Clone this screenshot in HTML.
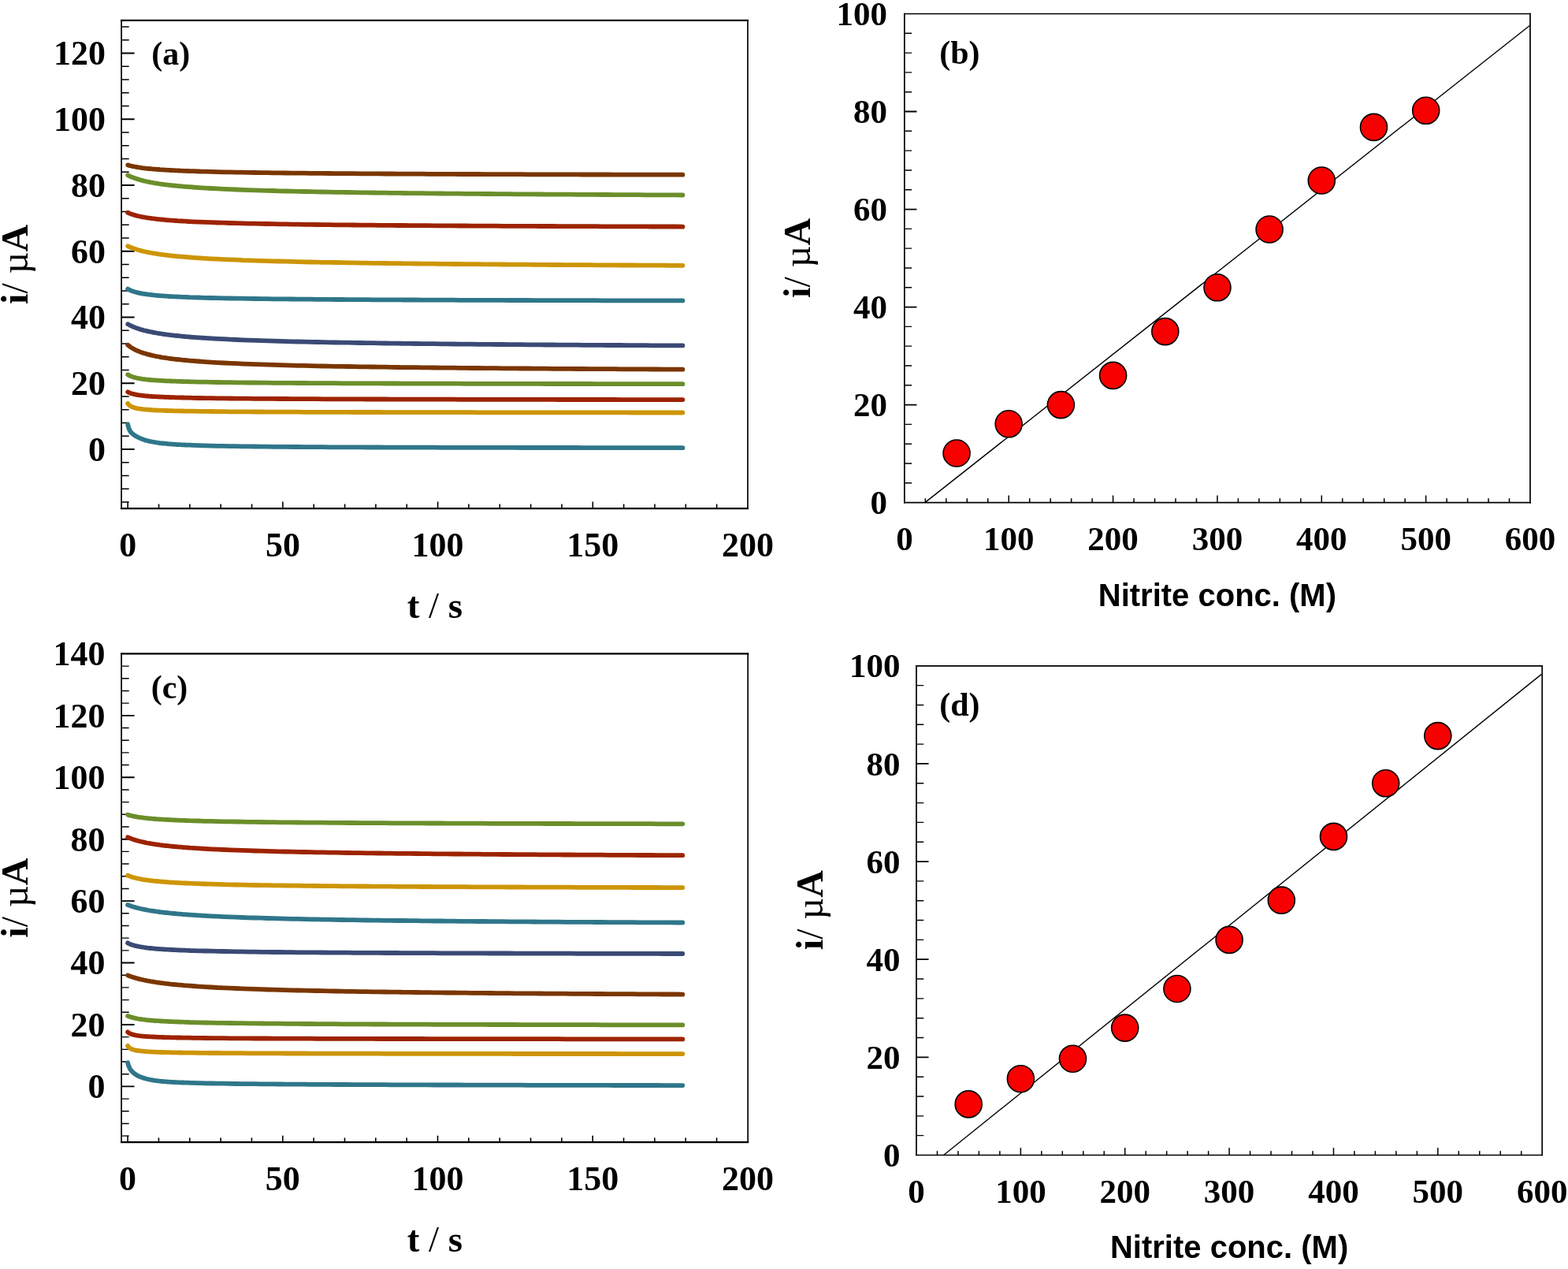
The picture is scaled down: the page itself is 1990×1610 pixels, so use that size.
<!DOCTYPE html>
<html><head><meta charset="utf-8"><title>Figure</title>
<style>html,body{margin:0;padding:0;background:#fff;}svg{display:block;}.t{font-family:"Liberation Serif","Times New Roman",serif;font-weight:bold;fill:#000;}.s{font-family:"Liberation Sans",Arial,sans-serif;font-weight:bold;fill:#000;}</style></head><body>
<svg width="1990" height="1610" viewBox="0 0 1990 1610">
<rect width="1990" height="1610" fill="#fff"/>
<path d="M154.1,25.9H949.0 M154.1,645.1H949.0" stroke="#000" stroke-width="2.2" stroke-linecap="square" fill="none"/>
<path d="M154.1,25.9V645.1 M949.0,25.9V645.1" stroke="#000" stroke-width="1.7" stroke-linecap="square" fill="none"/>
<path d="M154.1,570.00h16.5M154.1,486.25h16.5M154.1,402.50h16.5M154.1,318.75h16.5M154.1,235.00h16.5M154.1,151.25h16.5M154.1,67.50h16.5" stroke="#000" stroke-width="1.9" fill="none"/>
<path d="M154.1,637.00h9.6M154.1,620.25h9.6M154.1,603.50h9.6M154.1,586.75h9.6M154.1,553.25h9.6M154.1,536.50h9.6M154.1,519.75h9.6M154.1,503.00h9.6M154.1,469.50h9.6M154.1,452.75h9.6M154.1,436.00h9.6M154.1,419.25h9.6M154.1,385.75h9.6M154.1,369.00h9.6M154.1,352.25h9.6M154.1,335.50h9.6M154.1,302.00h9.6M154.1,285.25h9.6M154.1,268.50h9.6M154.1,251.75h9.6M154.1,218.25h9.6M154.1,201.50h9.6M154.1,184.75h9.6M154.1,168.00h9.6M154.1,134.50h9.6M154.1,117.75h9.6M154.1,101.00h9.6M154.1,84.25h9.6M154.1,50.75h9.6M154.1,34.00h9.6" stroke="#000" stroke-width="1.4" fill="none"/>
<path d="M162.20,645.1v-8.5M201.54,645.1v-5.6M240.88,645.1v-5.6M280.22,645.1v-5.6M319.56,645.1v-5.6M358.90,645.1v-8.5M398.24,645.1v-5.6M437.58,645.1v-5.6M476.92,645.1v-5.6M516.26,645.1v-5.6M555.60,645.1v-8.5M594.94,645.1v-5.6M634.28,645.1v-5.6M673.62,645.1v-5.6M712.96,645.1v-5.6M752.30,645.1v-8.5M791.64,645.1v-5.6M830.98,645.1v-5.6M870.32,645.1v-5.6M909.66,645.1v-5.6" stroke="#000" stroke-width="1.6" fill="none"/>
<text class="t" x="133.9" y="584.9" font-size="44" text-anchor="end">0</text>
<text class="t" x="133.9" y="501.1" font-size="44" text-anchor="end">20</text>
<text class="t" x="133.9" y="417.4" font-size="44" text-anchor="end">40</text>
<text class="t" x="133.9" y="333.6" font-size="44" text-anchor="end">60</text>
<text class="t" x="133.9" y="249.9" font-size="44" text-anchor="end">80</text>
<text class="t" x="133.9" y="166.2" font-size="44" text-anchor="end">100</text>
<text class="t" x="133.9" y="82.4" font-size="44" text-anchor="end">120</text>
<text class="t" x="162.2" y="706.2" font-size="44" text-anchor="middle">0</text>
<text class="t" x="358.9" y="706.2" font-size="44" text-anchor="middle">50</text>
<text class="t" x="555.6" y="706.2" font-size="44" text-anchor="middle">100</text>
<text class="t" x="752.3" y="706.2" font-size="44" text-anchor="middle">150</text>
<text class="t" x="949.0" y="706.2" font-size="44" text-anchor="middle">200</text>
<text class="t" x="551.9" y="783.7" font-size="47" text-anchor="middle">t <tspan font-weight="normal">/</tspan> s</text>
<text class="t" font-size="48.0" text-anchor="middle" transform="translate(35.1,335.4) rotate(-90)">i<tspan font-weight="normal">/ µ</tspan>A</text>
<text class="t" x="192.2" y="81.6" font-size="42.0">(a)</text>
<path d="M162.2,209.4 L163.0,209.6 L163.8,209.9 L164.6,210.1 L165.3,210.3 L166.1,210.5 L166.9,210.7 L167.7,210.8 L168.5,211.0 L169.3,211.2 L170.1,211.3 L170.9,211.5 L171.6,211.6 L172.4,211.8 L173.2,211.9 L174.0,212.0 L175.0,212.2 L177.0,212.5 L179.0,212.8 L181.0,213.1 L183.0,213.3 L185.0,213.6 L187.0,213.8 L189.0,214.0 L191.0,214.2 L193.0,214.4 L195.0,214.6 L197.0,214.7 L198.9,214.9 L200.9,215.0 L202.9,215.2 L204.9,215.3 L206.9,215.4 L208.9,215.6 L210.9,215.7 L212.9,215.8 L214.9,215.9 L216.9,216.0 L218.9,216.1 L220.9,216.2 L222.9,216.3 L224.9,216.4 L226.9,216.5 L228.9,216.6 L230.9,216.7 L232.9,216.8 L234.9,216.9 L236.9,216.9 L238.9,217.0 L240.9,217.1 L244.8,217.2 L252.7,217.5 L260.6,217.7 L268.4,217.9 L276.3,218.1 L284.2,218.3 L292.0,218.4 L299.9,218.6 L307.8,218.7 L315.6,218.9 L323.5,219.0 L331.4,219.1 L339.2,219.2 L347.1,219.3 L355.0,219.4 L362.8,219.5 L370.7,219.6 L378.6,219.7 L386.4,219.7 L394.3,219.8 L402.2,219.9 L410.0,219.9 L417.9,220.0 L425.8,220.1 L433.6,220.1 L441.5,220.2 L449.4,220.2 L457.2,220.3 L465.1,220.4 L473.0,220.4 L480.9,220.4 L488.7,220.5 L496.6,220.5 L504.5,220.6 L512.3,220.6 L520.2,220.7 L528.1,220.7 L535.9,220.7 L543.8,220.8 L551.7,220.8 L559.5,220.9 L567.4,220.9 L575.3,220.9 L583.1,221.0 L591.0,221.0 L598.9,221.0 L606.7,221.0 L614.6,221.1 L622.5,221.1 L630.3,221.1 L638.2,221.2 L646.1,221.2 L654.0,221.2 L661.8,221.2 L669.7,221.3 L677.6,221.3 L685.4,221.3 L693.3,221.3 L701.2,221.3 L709.0,221.4 L716.9,221.4 L724.8,221.4 L732.6,221.4 L740.5,221.5 L748.4,221.5 L756.2,221.5 L764.1,221.5 L772.0,221.5 L779.8,221.6 L787.7,221.6 L795.6,221.6 L803.4,221.6 L811.3,221.6 L819.2,221.6 L827.0,221.7 L834.9,221.7 L842.8,221.7 L850.7,221.7 L858.5,221.7 L866.4,221.7" fill="none" stroke="#7A3600" stroke-width="5.8" stroke-linecap="round" stroke-linejoin="round"/>
<path d="M162.2,222.3 L163.0,222.7 L163.8,223.1 L164.6,223.5 L165.3,223.8 L166.1,224.2 L166.9,224.5 L167.7,224.8 L168.5,225.1 L169.3,225.4 L170.1,225.7 L170.9,226.0 L171.6,226.3 L172.4,226.6 L173.2,226.8 L174.0,227.1 L175.0,227.4 L177.0,228.0 L179.0,228.5 L181.0,229.1 L183.0,229.6 L185.0,230.0 L187.0,230.5 L189.0,230.9 L191.0,231.3 L193.0,231.6 L195.0,232.0 L197.0,232.3 L198.9,232.7 L200.9,233.0 L202.9,233.3 L204.9,233.6 L206.9,233.8 L208.9,234.1 L210.9,234.3 L212.9,234.6 L214.9,234.8 L216.9,235.0 L218.9,235.3 L220.9,235.5 L222.9,235.7 L224.9,235.9 L226.9,236.1 L228.9,236.2 L230.9,236.4 L232.9,236.6 L234.9,236.8 L236.9,236.9 L238.9,237.1 L240.9,237.2 L244.8,237.5 L252.7,238.1 L260.6,238.6 L268.4,239.0 L276.3,239.4 L284.2,239.8 L292.0,240.2 L299.9,240.5 L307.8,240.8 L315.6,241.1 L323.5,241.3 L331.4,241.6 L339.2,241.8 L347.1,242.0 L355.0,242.3 L362.8,242.5 L370.7,242.6 L378.6,242.8 L386.4,243.0 L394.3,243.2 L402.2,243.3 L410.0,243.5 L417.9,243.6 L425.8,243.8 L433.6,243.9 L441.5,244.0 L449.4,244.1 L457.2,244.3 L465.1,244.4 L473.0,244.5 L480.9,244.6 L488.7,244.7 L496.6,244.8 L504.5,244.9 L512.3,245.0 L520.2,245.1 L528.1,245.2 L535.9,245.2 L543.8,245.3 L551.7,245.4 L559.5,245.5 L567.4,245.6 L575.3,245.6 L583.1,245.7 L591.0,245.8 L598.9,245.8 L606.7,245.9 L614.6,246.0 L622.5,246.0 L630.3,246.1 L638.2,246.2 L646.1,246.2 L654.0,246.3 L661.8,246.3 L669.7,246.4 L677.6,246.4 L685.4,246.5 L693.3,246.6 L701.2,246.6 L709.0,246.7 L716.9,246.7 L724.8,246.7 L732.6,246.8 L740.5,246.8 L748.4,246.9 L756.2,246.9 L764.1,247.0 L772.0,247.0 L779.8,247.1 L787.7,247.1 L795.6,247.1 L803.4,247.2 L811.3,247.2 L819.2,247.3 L827.0,247.3 L834.9,247.3 L842.8,247.4 L850.7,247.4 L858.5,247.4 L866.4,247.5" fill="none" stroke="#6B8E2A" stroke-width="5.8" stroke-linecap="round" stroke-linejoin="round"/>
<path d="M162.2,269.8 L163.0,270.1 L163.8,270.5 L164.6,270.8 L165.3,271.1 L166.1,271.4 L166.9,271.7 L167.7,271.9 L168.5,272.2 L169.3,272.5 L170.1,272.7 L170.9,272.9 L171.6,273.1 L172.4,273.4 L173.2,273.6 L174.0,273.8 L175.0,274.0 L177.0,274.5 L179.0,274.9 L181.0,275.3 L183.0,275.7 L185.0,276.0 L187.0,276.3 L189.0,276.6 L191.0,276.9 L193.0,277.2 L195.0,277.4 L197.0,277.7 L198.9,277.9 L200.9,278.1 L202.9,278.3 L204.9,278.5 L206.9,278.7 L208.9,278.9 L210.9,279.1 L212.9,279.3 L214.9,279.4 L216.9,279.6 L218.9,279.7 L220.9,279.9 L222.9,280.0 L224.9,280.1 L226.9,280.3 L228.9,280.4 L230.9,280.5 L232.9,280.6 L234.9,280.7 L236.9,280.8 L238.9,281.0 L240.9,281.1 L244.8,281.3 L252.7,281.6 L260.6,281.9 L268.4,282.2 L276.3,282.5 L284.2,282.7 L292.0,283.0 L299.9,283.2 L307.8,283.4 L315.6,283.6 L323.5,283.7 L331.4,283.9 L339.2,284.0 L347.1,284.2 L355.0,284.3 L362.8,284.4 L370.7,284.6 L378.6,284.7 L386.4,284.8 L394.3,284.9 L402.2,285.0 L410.0,285.1 L417.9,285.2 L425.8,285.3 L433.6,285.3 L441.5,285.4 L449.4,285.5 L457.2,285.6 L465.1,285.6 L473.0,285.7 L480.9,285.8 L488.7,285.8 L496.6,285.9 L504.5,286.0 L512.3,286.0 L520.2,286.1 L528.1,286.1 L535.9,286.2 L543.8,286.2 L551.7,286.3 L559.5,286.3 L567.4,286.4 L575.3,286.4 L583.1,286.5 L591.0,286.5 L598.9,286.6 L606.7,286.6 L614.6,286.6 L622.5,286.7 L630.3,286.7 L638.2,286.8 L646.1,286.8 L654.0,286.8 L661.8,286.9 L669.7,286.9 L677.6,286.9 L685.4,287.0 L693.3,287.0 L701.2,287.0 L709.0,287.1 L716.9,287.1 L724.8,287.1 L732.6,287.1 L740.5,287.2 L748.4,287.2 L756.2,287.2 L764.1,287.3 L772.0,287.3 L779.8,287.3 L787.7,287.3 L795.6,287.4 L803.4,287.4 L811.3,287.4 L819.2,287.4 L827.0,287.5 L834.9,287.5 L842.8,287.5 L850.7,287.5 L858.5,287.5 L866.4,287.6" fill="none" stroke="#9D2300" stroke-width="5.8" stroke-linecap="round" stroke-linejoin="round"/>
<path d="M162.2,312.2 L163.0,312.6 L163.8,312.9 L164.6,313.3 L165.3,313.6 L166.1,313.9 L166.9,314.3 L167.7,314.6 L168.5,314.8 L169.3,315.1 L170.1,315.4 L170.9,315.7 L171.6,315.9 L172.4,316.2 L173.2,316.4 L174.0,316.7 L175.0,317.0 L177.0,317.5 L179.0,318.1 L181.0,318.6 L183.0,319.0 L185.0,319.5 L187.0,319.9 L189.0,320.3 L191.0,320.7 L193.0,321.0 L195.0,321.4 L197.0,321.7 L198.9,322.0 L200.9,322.3 L202.9,322.6 L204.9,322.9 L206.9,323.1 L208.9,323.4 L210.9,323.6 L212.9,323.9 L214.9,324.1 L216.9,324.3 L218.9,324.5 L220.9,324.8 L222.9,325.0 L224.9,325.1 L226.9,325.3 L228.9,325.5 L230.9,325.7 L232.9,325.9 L234.9,326.0 L236.9,326.2 L238.9,326.4 L240.9,326.5 L244.8,326.8 L252.7,327.3 L260.6,327.8 L268.4,328.3 L276.3,328.7 L284.2,329.1 L292.0,329.4 L299.9,329.7 L307.8,330.1 L315.6,330.3 L323.5,330.6 L331.4,330.9 L339.2,331.1 L347.1,331.3 L355.0,331.5 L362.8,331.7 L370.7,331.9 L378.6,332.1 L386.4,332.3 L394.3,332.5 L402.2,332.6 L410.0,332.8 L417.9,332.9 L425.8,333.0 L433.6,333.2 L441.5,333.3 L449.4,333.4 L457.2,333.6 L465.1,333.7 L473.0,333.8 L480.9,333.9 L488.7,334.0 L496.6,334.1 L504.5,334.2 L512.3,334.3 L520.2,334.4 L528.1,334.5 L535.9,334.6 L543.8,334.6 L551.7,334.7 L559.5,334.8 L567.4,334.9 L575.3,335.0 L583.1,335.0 L591.0,335.1 L598.9,335.2 L606.7,335.2 L614.6,335.3 L622.5,335.4 L630.3,335.4 L638.2,335.5 L646.1,335.6 L654.0,335.6 L661.8,335.7 L669.7,335.7 L677.6,335.8 L685.4,335.8 L693.3,335.9 L701.2,336.0 L709.0,336.0 L716.9,336.1 L724.8,336.1 L732.6,336.1 L740.5,336.2 L748.4,336.2 L756.2,336.3 L764.1,336.3 L772.0,336.4 L779.8,336.4 L787.7,336.5 L795.6,336.5 L803.4,336.5 L811.3,336.6 L819.2,336.6 L827.0,336.7 L834.9,336.7 L842.8,336.7 L850.7,336.8 L858.5,336.8 L866.4,336.8" fill="none" stroke="#CD9505" stroke-width="5.8" stroke-linecap="round" stroke-linejoin="round"/>
<path d="M162.2,366.6 L163.0,367.1 L163.8,367.5 L164.6,367.9 L165.3,368.3 L166.1,368.6 L166.9,368.9 L167.7,369.2 L168.5,369.5 L169.3,369.8 L170.1,370.0 L170.9,370.3 L171.6,370.5 L172.4,370.7 L173.2,370.9 L174.0,371.1 L175.0,371.4 L177.0,371.8 L179.0,372.2 L181.0,372.6 L183.0,372.9 L185.0,373.2 L187.0,373.5 L189.0,373.7 L191.0,374.0 L193.0,374.2 L195.0,374.4 L197.0,374.6 L198.9,374.8 L200.9,375.0 L202.9,375.1 L204.9,375.3 L206.9,375.4 L208.9,375.6 L210.9,375.7 L212.9,375.8 L214.9,376.0 L216.9,376.1 L218.9,376.2 L220.9,376.3 L222.9,376.4 L224.9,376.5 L226.9,376.6 L228.9,376.7 L230.9,376.8 L232.9,376.8 L234.9,376.9 L236.9,377.0 L238.9,377.1 L240.9,377.2 L244.8,377.3 L252.7,377.5 L260.6,377.8 L268.4,378.0 L276.3,378.2 L284.2,378.3 L292.0,378.5 L299.9,378.6 L307.8,378.7 L315.6,378.9 L323.5,379.0 L331.4,379.1 L339.2,379.2 L347.1,379.3 L355.0,379.4 L362.8,379.4 L370.7,379.5 L378.6,379.6 L386.4,379.7 L394.3,379.7 L402.2,379.8 L410.0,379.9 L417.9,379.9 L425.8,380.0 L433.6,380.0 L441.5,380.1 L449.4,380.1 L457.2,380.2 L465.1,380.2 L473.0,380.3 L480.9,380.3 L488.7,380.4 L496.6,380.4 L504.5,380.4 L512.3,380.5 L520.2,380.5 L528.1,380.5 L535.9,380.6 L543.8,380.6 L551.7,380.6 L559.5,380.7 L567.4,380.7 L575.3,380.7 L583.1,380.8 L591.0,380.8 L598.9,380.8 L606.7,380.8 L614.6,380.9 L622.5,380.9 L630.3,380.9 L638.2,380.9 L646.1,381.0 L654.0,381.0 L661.8,381.0 L669.7,381.0 L677.6,381.1 L685.4,381.1 L693.3,381.1 L701.2,381.1 L709.0,381.1 L716.9,381.1 L724.8,381.2 L732.6,381.2 L740.5,381.2 L748.4,381.2 L756.2,381.2 L764.1,381.3 L772.0,381.3 L779.8,381.3 L787.7,381.3 L795.6,381.3 L803.4,381.3 L811.3,381.3 L819.2,381.4 L827.0,381.4 L834.9,381.4 L842.8,381.4 L850.7,381.4 L858.5,381.4 L866.4,381.4" fill="none" stroke="#2F768A" stroke-width="5.8" stroke-linecap="round" stroke-linejoin="round"/>
<path d="M162.2,411.2 L163.0,411.6 L163.8,412.1 L164.6,412.5 L165.3,412.9 L166.1,413.2 L166.9,413.6 L167.7,414.0 L168.5,414.3 L169.3,414.7 L170.1,415.0 L170.9,415.3 L171.6,415.6 L172.4,415.9 L173.2,416.2 L174.0,416.5 L175.0,416.8 L177.0,417.5 L179.0,418.1 L181.0,418.6 L183.0,419.2 L185.0,419.7 L187.0,420.1 L189.0,420.6 L191.0,421.0 L193.0,421.4 L195.0,421.8 L197.0,422.2 L198.9,422.5 L200.9,422.9 L202.9,423.2 L204.9,423.5 L206.9,423.8 L208.9,424.1 L210.9,424.4 L212.9,424.6 L214.9,424.9 L216.9,425.1 L218.9,425.3 L220.9,425.6 L222.9,425.8 L224.9,426.0 L226.9,426.2 L228.9,426.4 L230.9,426.6 L232.9,426.8 L234.9,427.0 L236.9,427.1 L238.9,427.3 L240.9,427.5 L244.8,427.8 L252.7,428.4 L260.6,428.9 L268.4,429.4 L276.3,429.8 L284.2,430.2 L292.0,430.6 L299.9,431.0 L307.8,431.3 L315.6,431.6 L323.5,431.9 L331.4,432.1 L339.2,432.4 L347.1,432.6 L355.0,432.9 L362.8,433.1 L370.7,433.3 L378.6,433.5 L386.4,433.7 L394.3,433.8 L402.2,434.0 L410.0,434.2 L417.9,434.3 L425.8,434.5 L433.6,434.6 L441.5,434.7 L449.4,434.9 L457.2,435.0 L465.1,435.1 L473.0,435.2 L480.9,435.4 L488.7,435.5 L496.6,435.6 L504.5,435.7 L512.3,435.8 L520.2,435.9 L528.1,436.0 L535.9,436.1 L543.8,436.2 L551.7,436.2 L559.5,436.3 L567.4,436.4 L575.3,436.5 L583.1,436.6 L591.0,436.6 L598.9,436.7 L606.7,436.8 L614.6,436.8 L622.5,436.9 L630.3,437.0 L638.2,437.0 L646.1,437.1 L654.0,437.2 L661.8,437.2 L669.7,437.3 L677.6,437.4 L685.4,437.4 L693.3,437.5 L701.2,437.5 L709.0,437.6 L716.9,437.6 L724.8,437.7 L732.6,437.7 L740.5,437.8 L748.4,437.8 L756.2,437.9 L764.1,437.9 L772.0,438.0 L779.8,438.0 L787.7,438.0 L795.6,438.1 L803.4,438.1 L811.3,438.2 L819.2,438.2 L827.0,438.3 L834.9,438.3 L842.8,438.3 L850.7,438.4 L858.5,438.4 L866.4,438.4" fill="none" stroke="#3A4A75" stroke-width="5.8" stroke-linecap="round" stroke-linejoin="round"/>
<path d="M162.2,437.7 L163.0,438.3 L163.8,438.9 L164.6,439.5 L165.3,440.1 L166.1,440.6 L166.9,441.1 L167.7,441.6 L168.5,442.1 L169.3,442.5 L170.1,443.0 L170.9,443.4 L171.6,443.8 L172.4,444.2 L173.2,444.5 L174.0,444.9 L175.0,445.3 L177.0,446.1 L179.0,446.9 L181.0,447.6 L183.0,448.2 L185.0,448.8 L187.0,449.4 L189.0,449.9 L191.0,450.4 L193.0,450.9 L195.0,451.3 L197.0,451.8 L198.9,452.2 L200.9,452.5 L202.9,452.9 L204.9,453.3 L206.9,453.6 L208.9,453.9 L210.9,454.2 L212.9,454.5 L214.9,454.8 L216.9,455.0 L218.9,455.3 L220.9,455.5 L222.9,455.8 L224.9,456.0 L226.9,456.2 L228.9,456.4 L230.9,456.7 L232.9,456.9 L234.9,457.0 L236.9,457.2 L238.9,457.4 L240.9,457.6 L244.8,457.9 L252.7,458.5 L260.6,459.1 L268.4,459.6 L276.3,460.1 L284.2,460.5 L292.0,460.9 L299.9,461.2 L307.8,461.6 L315.6,461.9 L323.5,462.2 L331.4,462.4 L339.2,462.7 L347.1,462.9 L355.0,463.2 L362.8,463.4 L370.7,463.6 L378.6,463.8 L386.4,463.9 L394.3,464.1 L402.2,464.3 L410.0,464.5 L417.9,464.6 L425.8,464.8 L433.6,464.9 L441.5,465.0 L449.4,465.2 L457.2,465.3 L465.1,465.4 L473.0,465.5 L480.9,465.6 L488.7,465.7 L496.6,465.9 L504.5,466.0 L512.3,466.1 L520.2,466.1 L528.1,466.2 L535.9,466.3 L543.8,466.4 L551.7,466.5 L559.5,466.6 L567.4,466.7 L575.3,466.7 L583.1,466.8 L591.0,466.9 L598.9,467.0 L606.7,467.0 L614.6,467.1 L622.5,467.2 L630.3,467.2 L638.2,467.3 L646.1,467.4 L654.0,467.4 L661.8,467.5 L669.7,467.5 L677.6,467.6 L685.4,467.6 L693.3,467.7 L701.2,467.8 L709.0,467.8 L716.9,467.9 L724.8,467.9 L732.6,468.0 L740.5,468.0 L748.4,468.1 L756.2,468.1 L764.1,468.1 L772.0,468.2 L779.8,468.2 L787.7,468.3 L795.6,468.3 L803.4,468.4 L811.3,468.4 L819.2,468.4 L827.0,468.5 L834.9,468.5 L842.8,468.6 L850.7,468.6 L858.5,468.6 L866.4,468.7" fill="none" stroke="#7A3600" stroke-width="5.8" stroke-linecap="round" stroke-linejoin="round"/>
<path d="M162.2,475.2 L163.0,475.7 L163.8,476.2 L164.6,476.6 L165.3,477.0 L166.1,477.3 L166.9,477.6 L167.7,477.9 L168.5,478.2 L169.3,478.5 L170.1,478.7 L170.9,478.9 L171.6,479.1 L172.4,479.3 L173.2,479.5 L174.0,479.7 L175.0,479.9 L177.0,480.2 L179.0,480.6 L181.0,480.9 L183.0,481.1 L185.0,481.4 L187.0,481.6 L189.0,481.8 L191.0,482.0 L193.0,482.1 L195.0,482.3 L197.0,482.4 L198.9,482.6 L200.9,482.7 L202.9,482.8 L204.9,482.9 L206.9,483.1 L208.9,483.2 L210.9,483.3 L212.9,483.3 L214.9,483.4 L216.9,483.5 L218.9,483.6 L220.9,483.7 L222.9,483.7 L224.9,483.8 L226.9,483.9 L228.9,483.9 L230.9,484.0 L232.9,484.1 L234.9,484.1 L236.9,484.2 L238.9,484.2 L240.9,484.3 L244.8,484.4 L252.7,484.6 L260.6,484.7 L268.4,484.9 L276.3,485.0 L284.2,485.1 L292.0,485.2 L299.9,485.3 L307.8,485.4 L315.6,485.5 L323.5,485.5 L331.4,485.6 L339.2,485.7 L347.1,485.8 L355.0,485.8 L362.8,485.9 L370.7,485.9 L378.6,486.0 L386.4,486.0 L394.3,486.1 L402.2,486.1 L410.0,486.1 L417.9,486.2 L425.8,486.2 L433.6,486.3 L441.5,486.3 L449.4,486.3 L457.2,486.4 L465.1,486.4 L473.0,486.4 L480.9,486.4 L488.7,486.5 L496.6,486.5 L504.5,486.5 L512.3,486.6 L520.2,486.6 L528.1,486.6 L535.9,486.6 L543.8,486.6 L551.7,486.7 L559.5,486.7 L567.4,486.7 L575.3,486.7 L583.1,486.7 L591.0,486.8 L598.9,486.8 L606.7,486.8 L614.6,486.8 L622.5,486.8 L630.3,486.8 L638.2,486.9 L646.1,486.9 L654.0,486.9 L661.8,486.9 L669.7,486.9 L677.6,486.9 L685.4,486.9 L693.3,487.0 L701.2,487.0 L709.0,487.0 L716.9,487.0 L724.8,487.0 L732.6,487.0 L740.5,487.0 L748.4,487.0 L756.2,487.1 L764.1,487.1 L772.0,487.1 L779.8,487.1 L787.7,487.1 L795.6,487.1 L803.4,487.1 L811.3,487.1 L819.2,487.1 L827.0,487.2 L834.9,487.2 L842.8,487.2 L850.7,487.2 L858.5,487.2 L866.4,487.2" fill="none" stroke="#6B8E2A" stroke-width="5.8" stroke-linecap="round" stroke-linejoin="round"/>
<path d="M162.2,497.3 L163.0,497.7 L163.8,498.1 L164.6,498.4 L165.3,498.7 L166.1,499.0 L166.9,499.3 L167.7,499.5 L168.5,499.7 L169.3,499.9 L170.1,500.1 L170.9,500.3 L171.6,500.5 L172.4,500.6 L173.2,500.8 L174.0,500.9 L175.0,501.1 L177.0,501.4 L179.0,501.7 L181.0,501.9 L183.0,502.1 L185.0,502.3 L187.0,502.5 L189.0,502.7 L191.0,502.8 L193.0,503.0 L195.0,503.1 L197.0,503.2 L198.9,503.3 L200.9,503.4 L202.9,503.5 L204.9,503.6 L206.9,503.7 L208.9,503.8 L210.9,503.9 L212.9,503.9 L214.9,504.0 L216.9,504.1 L218.9,504.2 L220.9,504.2 L222.9,504.3 L224.9,504.3 L226.9,504.4 L228.9,504.4 L230.9,504.5 L232.9,504.5 L234.9,504.6 L236.9,504.6 L238.9,504.7 L240.9,504.7 L244.8,504.8 L252.7,505.0 L260.6,505.1 L268.4,505.2 L276.3,505.3 L284.2,505.4 L292.0,505.5 L299.9,505.6 L307.8,505.6 L315.6,505.7 L323.5,505.8 L331.4,505.8 L339.2,505.9 L347.1,505.9 L355.0,506.0 L362.8,506.0 L370.7,506.1 L378.6,506.1 L386.4,506.2 L394.3,506.2 L402.2,506.2 L410.0,506.3 L417.9,506.3 L425.8,506.3 L433.6,506.4 L441.5,506.4 L449.4,506.4 L457.2,506.4 L465.1,506.5 L473.0,506.5 L480.9,506.5 L488.7,506.5 L496.6,506.6 L504.5,506.6 L512.3,506.6 L520.2,506.6 L528.1,506.6 L535.9,506.7 L543.8,506.7 L551.7,506.7 L559.5,506.7 L567.4,506.7 L575.3,506.7 L583.1,506.8 L591.0,506.8 L598.9,506.8 L606.7,506.8 L614.6,506.8 L622.5,506.8 L630.3,506.8 L638.2,506.9 L646.1,506.9 L654.0,506.9 L661.8,506.9 L669.7,506.9 L677.6,506.9 L685.4,506.9 L693.3,506.9 L701.2,506.9 L709.0,507.0 L716.9,507.0 L724.8,507.0 L732.6,507.0 L740.5,507.0 L748.4,507.0 L756.2,507.0 L764.1,507.0 L772.0,507.0 L779.8,507.0 L787.7,507.1 L795.6,507.1 L803.4,507.1 L811.3,507.1 L819.2,507.1 L827.0,507.1 L834.9,507.1 L842.8,507.1 L850.7,507.1 L858.5,507.1 L866.4,507.1" fill="none" stroke="#9D2300" stroke-width="5.8" stroke-linecap="round" stroke-linejoin="round"/>
<path d="M162.2,511.9 L163.0,513.0 L163.8,513.8 L164.6,514.5 L165.3,515.0 L166.1,515.5 L166.9,515.9 L167.7,516.3 L168.5,516.6 L169.3,516.9 L170.1,517.1 L170.9,517.4 L171.6,517.6 L172.4,517.8 L173.2,517.9 L174.0,518.1 L175.0,518.3 L177.0,518.6 L179.0,518.9 L181.0,519.2 L183.0,519.4 L185.0,519.6 L187.0,519.7 L189.0,519.9 L191.0,520.0 L193.0,520.2 L195.0,520.3 L197.0,520.4 L198.9,520.5 L200.9,520.6 L202.9,520.7 L204.9,520.7 L206.9,520.8 L208.9,520.9 L210.9,521.0 L212.9,521.0 L214.9,521.1 L216.9,521.1 L218.9,521.2 L220.9,521.3 L222.9,521.3 L224.9,521.3 L226.9,521.4 L228.9,521.4 L230.9,521.5 L232.9,521.5 L234.9,521.6 L236.9,521.6 L238.9,521.6 L240.9,521.7 L244.8,521.7 L252.7,521.8 L260.6,521.9 L268.4,522.0 L276.3,522.1 L284.2,522.2 L292.0,522.3 L299.9,522.3 L307.8,522.4 L315.6,522.4 L323.5,522.5 L331.4,522.5 L339.2,522.6 L347.1,522.6 L355.0,522.6 L362.8,522.7 L370.7,522.7 L378.6,522.7 L386.4,522.8 L394.3,522.8 L402.2,522.8 L410.0,522.9 L417.9,522.9 L425.8,522.9 L433.6,522.9 L441.5,522.9 L449.4,523.0 L457.2,523.0 L465.1,523.0 L473.0,523.0 L480.9,523.0 L488.7,523.1 L496.6,523.1 L504.5,523.1 L512.3,523.1 L520.2,523.1 L528.1,523.1 L535.9,523.1 L543.8,523.2 L551.7,523.2 L559.5,523.2 L567.4,523.2 L575.3,523.2 L583.1,523.2 L591.0,523.2 L598.9,523.2 L606.7,523.3 L614.6,523.3 L622.5,523.3 L630.3,523.3 L638.2,523.3 L646.1,523.3 L654.0,523.3 L661.8,523.3 L669.7,523.3 L677.6,523.3 L685.4,523.3 L693.3,523.4 L701.2,523.4 L709.0,523.4 L716.9,523.4 L724.8,523.4 L732.6,523.4 L740.5,523.4 L748.4,523.4 L756.2,523.4 L764.1,523.4 L772.0,523.4 L779.8,523.4 L787.7,523.4 L795.6,523.4 L803.4,523.5 L811.3,523.5 L819.2,523.5 L827.0,523.5 L834.9,523.5 L842.8,523.5 L850.7,523.5 L858.5,523.5 L866.4,523.5" fill="none" stroke="#CD9505" stroke-width="5.8" stroke-linecap="round" stroke-linejoin="round"/>
<path d="M162.2,538.5 L163.0,541.9 L163.8,544.3 L164.6,546.0 L165.3,547.2 L166.1,548.3 L166.9,549.2 L167.7,549.9 L168.5,550.6 L169.3,551.2 L170.1,551.8 L170.9,552.3 L171.6,552.8 L172.4,553.3 L173.2,553.8 L174.0,554.2 L175.0,554.7 L177.0,555.7 L179.0,556.6 L181.0,557.3 L183.0,558.0 L185.0,558.6 L187.0,559.2 L189.0,559.7 L191.0,560.1 L193.0,560.5 L195.0,560.9 L197.0,561.2 L198.9,561.5 L200.9,561.8 L202.9,562.1 L204.9,562.3 L206.9,562.5 L208.9,562.7 L210.9,562.9 L212.9,563.1 L214.9,563.3 L216.9,563.4 L218.9,563.6 L220.9,563.7 L222.9,563.8 L224.9,564.0 L226.9,564.1 L228.9,564.2 L230.9,564.3 L232.9,564.4 L234.9,564.5 L236.9,564.6 L238.9,564.7 L240.9,564.7 L244.8,564.9 L252.7,565.2 L260.6,565.4 L268.4,565.6 L276.3,565.8 L284.2,565.9 L292.0,566.1 L299.9,566.2 L307.8,566.3 L315.6,566.4 L323.5,566.5 L331.4,566.6 L339.2,566.7 L347.1,566.8 L355.0,566.8 L362.8,566.9 L370.7,567.0 L378.6,567.0 L386.4,567.1 L394.3,567.1 L402.2,567.2 L410.0,567.2 L417.9,567.3 L425.8,567.3 L433.6,567.3 L441.5,567.4 L449.4,567.4 L457.2,567.4 L465.1,567.5 L473.0,567.5 L480.9,567.5 L488.7,567.6 L496.6,567.6 L504.5,567.6 L512.3,567.6 L520.2,567.7 L528.1,567.7 L535.9,567.7 L543.8,567.7 L551.7,567.7 L559.5,567.8 L567.4,567.8 L575.3,567.8 L583.1,567.8 L591.0,567.8 L598.9,567.8 L606.7,567.9 L614.6,567.9 L622.5,567.9 L630.3,567.9 L638.2,567.9 L646.1,567.9 L654.0,567.9 L661.8,568.0 L669.7,568.0 L677.6,568.0 L685.4,568.0 L693.3,568.0 L701.2,568.0 L709.0,568.0 L716.9,568.0 L724.8,568.0 L732.6,568.0 L740.5,568.1 L748.4,568.1 L756.2,568.1 L764.1,568.1 L772.0,568.1 L779.8,568.1 L787.7,568.1 L795.6,568.1 L803.4,568.1 L811.3,568.1 L819.2,568.1 L827.0,568.1 L834.9,568.2 L842.8,568.2 L850.7,568.2 L858.5,568.2 L866.4,568.2" fill="none" stroke="#2F768A" stroke-width="5.8" stroke-linecap="round" stroke-linejoin="round"/>
<path d="M154.1,829.4H949.2 M154.1,1449.2H949.2" stroke="#000" stroke-width="2.2" stroke-linecap="square" fill="none"/>
<path d="M154.1,829.4V1449.2 M949.2,829.4V1449.2" stroke="#000" stroke-width="1.7" stroke-linecap="square" fill="none"/>
<path d="M154.1,1378.40h16.5M154.1,1299.97h16.5M154.1,1221.54h16.5M154.1,1143.12h16.5M154.1,1064.69h16.5M154.1,986.26h16.5M154.1,907.83h16.5" stroke="#000" stroke-width="1.9" fill="none"/>
<path d="M154.1,1441.14h9.6M154.1,1425.46h9.6M154.1,1409.77h9.6M154.1,1394.09h9.6M154.1,1362.71h9.6M154.1,1347.03h9.6M154.1,1331.34h9.6M154.1,1315.66h9.6M154.1,1284.29h9.6M154.1,1268.60h9.6M154.1,1252.92h9.6M154.1,1237.23h9.6M154.1,1205.86h9.6M154.1,1190.17h9.6M154.1,1174.49h9.6M154.1,1158.80h9.6M154.1,1127.43h9.6M154.1,1111.74h9.6M154.1,1096.06h9.6M154.1,1080.37h9.6M154.1,1049.00h9.6M154.1,1033.32h9.6M154.1,1017.63h9.6M154.1,1001.95h9.6M154.1,970.57h9.6M154.1,954.89h9.6M154.1,939.20h9.6M154.1,923.52h9.6M154.1,892.15h9.6M154.1,876.46h9.6M154.1,860.78h9.6M154.1,845.09h9.6" stroke="#000" stroke-width="1.4" fill="none"/>
<path d="M162.10,1449.2v-8.5M201.44,1449.2v-5.6M240.78,1449.2v-5.6M280.12,1449.2v-5.6M319.46,1449.2v-5.6M358.80,1449.2v-8.5M398.14,1449.2v-5.6M437.48,1449.2v-5.6M476.82,1449.2v-5.6M516.16,1449.2v-5.6M555.50,1449.2v-8.5M594.84,1449.2v-5.6M634.18,1449.2v-5.6M673.52,1449.2v-5.6M712.86,1449.2v-5.6M752.20,1449.2v-8.5M791.54,1449.2v-5.6M830.88,1449.2v-5.6M870.22,1449.2v-5.6M909.56,1449.2v-5.6" stroke="#000" stroke-width="1.6" fill="none"/>
<text class="t" x="133.6" y="1393.3" font-size="44" text-anchor="end">0</text>
<text class="t" x="133.6" y="1314.9" font-size="44" text-anchor="end">20</text>
<text class="t" x="133.6" y="1236.4" font-size="44" text-anchor="end">40</text>
<text class="t" x="133.6" y="1158.0" font-size="44" text-anchor="end">60</text>
<text class="t" x="133.6" y="1079.6" font-size="44" text-anchor="end">80</text>
<text class="t" x="133.6" y="1001.2" font-size="44" text-anchor="end">100</text>
<text class="t" x="133.6" y="922.7" font-size="44" text-anchor="end">120</text>
<text class="t" x="133.6" y="844.3" font-size="44" text-anchor="end">140</text>
<text class="t" x="162.1" y="1510.4" font-size="44" text-anchor="middle">0</text>
<text class="t" x="358.8" y="1510.4" font-size="44" text-anchor="middle">50</text>
<text class="t" x="555.5" y="1510.4" font-size="44" text-anchor="middle">100</text>
<text class="t" x="752.2" y="1510.4" font-size="44" text-anchor="middle">150</text>
<text class="t" x="948.9" y="1510.4" font-size="44" text-anchor="middle">200</text>
<text class="t" x="551.9" y="1588" font-size="47" text-anchor="middle">t <tspan font-weight="normal">/</tspan> s</text>
<text class="t" font-size="48.0" text-anchor="middle" transform="translate(35.2,1139.2) rotate(-90)">i<tspan font-weight="normal">/ µ</tspan>A</text>
<text class="t" x="191.7" y="885.6" font-size="42.0">(c)</text>
<path d="M162.1,1033.7 L162.9,1033.9 L163.7,1034.2 L164.5,1034.4 L165.2,1034.6 L166.0,1034.8 L166.8,1035.0 L167.6,1035.2 L168.4,1035.4 L169.2,1035.5 L170.0,1035.7 L170.8,1035.8 L171.5,1036.0 L172.3,1036.1 L173.1,1036.3 L173.9,1036.4 L174.9,1036.6 L176.9,1036.9 L178.9,1037.2 L180.9,1037.4 L182.9,1037.7 L184.9,1037.9 L186.9,1038.1 L188.9,1038.3 L190.9,1038.5 L192.9,1038.7 L194.9,1038.8 L196.9,1039.0 L198.8,1039.2 L200.8,1039.3 L202.8,1039.4 L204.8,1039.6 L206.8,1039.7 L208.8,1039.8 L210.8,1039.9 L212.8,1040.0 L214.8,1040.1 L216.8,1040.2 L218.8,1040.3 L220.8,1040.4 L222.8,1040.5 L224.8,1040.6 L226.8,1040.7 L228.8,1040.8 L230.8,1040.8 L232.8,1040.9 L234.8,1041.0 L236.8,1041.1 L238.8,1041.1 L240.8,1041.2 L244.7,1041.3 L252.6,1041.5 L260.4,1041.8 L268.3,1041.9 L276.2,1042.1 L284.1,1042.3 L291.9,1042.4 L299.8,1042.5 L307.7,1042.7 L315.5,1042.8 L323.4,1042.9 L331.3,1043.0 L339.1,1043.1 L347.0,1043.2 L354.9,1043.3 L362.7,1043.3 L370.6,1043.4 L378.5,1043.5 L386.3,1043.6 L394.2,1043.6 L402.1,1043.7 L409.9,1043.7 L417.8,1043.8 L425.7,1043.9 L433.5,1043.9 L441.4,1044.0 L449.3,1044.0 L457.1,1044.1 L465.0,1044.1 L472.9,1044.1 L480.8,1044.2 L488.6,1044.2 L496.5,1044.3 L504.4,1044.3 L512.2,1044.3 L520.1,1044.4 L528.0,1044.4 L535.8,1044.4 L543.7,1044.5 L551.6,1044.5 L559.4,1044.5 L567.3,1044.6 L575.2,1044.6 L583.0,1044.6 L590.9,1044.7 L598.8,1044.7 L606.6,1044.7 L614.5,1044.7 L622.4,1044.8 L630.2,1044.8 L638.1,1044.8 L646.0,1044.8 L653.9,1044.9 L661.7,1044.9 L669.6,1044.9 L677.5,1044.9 L685.3,1044.9 L693.2,1045.0 L701.1,1045.0 L708.9,1045.0 L716.8,1045.0 L724.7,1045.0 L732.5,1045.1 L740.4,1045.1 L748.3,1045.1 L756.1,1045.1 L764.0,1045.1 L771.9,1045.1 L779.7,1045.2 L787.6,1045.2 L795.5,1045.2 L803.3,1045.2 L811.2,1045.2 L819.1,1045.2 L826.9,1045.2 L834.8,1045.3 L842.7,1045.3 L850.6,1045.3 L858.4,1045.3 L866.3,1045.3" fill="none" stroke="#6B8E2A" stroke-width="5.8" stroke-linecap="round" stroke-linejoin="round"/>
<path d="M162.1,1062.2 L162.9,1062.5 L163.7,1062.9 L164.5,1063.2 L165.2,1063.5 L166.0,1063.8 L166.8,1064.1 L167.6,1064.4 L168.4,1064.7 L169.2,1065.0 L170.0,1065.2 L170.8,1065.5 L171.5,1065.7 L172.3,1066.0 L173.1,1066.2 L173.9,1066.4 L174.9,1066.7 L176.9,1067.2 L178.9,1067.7 L180.9,1068.2 L182.9,1068.6 L184.9,1069.1 L186.9,1069.5 L188.9,1069.8 L190.9,1070.2 L192.9,1070.5 L194.9,1070.8 L196.9,1071.2 L198.8,1071.5 L200.8,1071.7 L202.8,1072.0 L204.8,1072.3 L206.8,1072.5 L208.8,1072.8 L210.8,1073.0 L212.8,1073.2 L214.8,1073.4 L216.8,1073.6 L218.8,1073.8 L220.8,1074.0 L222.8,1074.2 L224.8,1074.4 L226.8,1074.6 L228.8,1074.7 L230.8,1074.9 L232.8,1075.1 L234.8,1075.2 L236.8,1075.4 L238.8,1075.5 L240.8,1075.7 L244.7,1075.9 L252.6,1076.4 L260.4,1076.9 L268.3,1077.3 L276.2,1077.7 L284.1,1078.0 L291.9,1078.4 L299.8,1078.7 L307.7,1078.9 L315.5,1079.2 L323.4,1079.5 L331.3,1079.7 L339.1,1079.9 L347.0,1080.1 L354.9,1080.3 L362.7,1080.5 L370.6,1080.7 L378.5,1080.8 L386.3,1081.0 L394.2,1081.2 L402.1,1081.3 L409.9,1081.4 L417.8,1081.6 L425.7,1081.7 L433.5,1081.8 L441.4,1082.0 L449.3,1082.1 L457.1,1082.2 L465.0,1082.3 L472.9,1082.4 L480.8,1082.5 L488.6,1082.6 L496.5,1082.7 L504.4,1082.8 L512.2,1082.9 L520.1,1082.9 L528.0,1083.0 L535.8,1083.1 L543.7,1083.2 L551.6,1083.3 L559.4,1083.3 L567.3,1083.4 L575.2,1083.5 L583.0,1083.5 L590.9,1083.6 L598.8,1083.7 L606.6,1083.7 L614.5,1083.8 L622.4,1083.9 L630.2,1083.9 L638.1,1084.0 L646.0,1084.0 L653.9,1084.1 L661.7,1084.1 L669.6,1084.2 L677.5,1084.2 L685.3,1084.3 L693.2,1084.3 L701.1,1084.4 L708.9,1084.4 L716.8,1084.5 L724.7,1084.5 L732.5,1084.6 L740.4,1084.6 L748.3,1084.7 L756.1,1084.7 L764.0,1084.7 L771.9,1084.8 L779.7,1084.8 L787.6,1084.9 L795.5,1084.9 L803.3,1084.9 L811.2,1085.0 L819.1,1085.0 L826.9,1085.0 L834.8,1085.1 L842.7,1085.1 L850.6,1085.1 L858.4,1085.2 L866.3,1085.2" fill="none" stroke="#9D2300" stroke-width="5.8" stroke-linecap="round" stroke-linejoin="round"/>
<path d="M162.1,1110.7 L162.9,1111.0 L163.7,1111.3 L164.5,1111.6 L165.2,1111.9 L166.0,1112.2 L166.8,1112.5 L167.6,1112.7 L168.4,1113.0 L169.2,1113.2 L170.0,1113.4 L170.8,1113.6 L171.5,1113.8 L172.3,1114.0 L173.1,1114.2 L173.9,1114.4 L174.9,1114.6 L176.9,1115.0 L178.9,1115.4 L180.9,1115.8 L182.9,1116.1 L184.9,1116.4 L186.9,1116.7 L188.9,1116.9 L190.9,1117.2 L192.9,1117.4 L194.9,1117.6 L196.9,1117.8 L198.8,1118.0 L200.8,1118.2 L202.8,1118.4 L204.8,1118.6 L206.8,1118.7 L208.8,1118.9 L210.8,1119.1 L212.8,1119.2 L214.8,1119.3 L216.8,1119.5 L218.8,1119.6 L220.8,1119.7 L222.8,1119.8 L224.8,1119.9 L226.8,1120.1 L228.8,1120.2 L230.8,1120.3 L232.8,1120.4 L234.8,1120.5 L236.8,1120.5 L238.8,1120.6 L240.8,1120.7 L244.7,1120.9 L252.6,1121.2 L260.4,1121.5 L268.3,1121.7 L276.2,1121.9 L284.1,1122.1 L291.9,1122.3 L299.8,1122.5 L307.7,1122.7 L315.5,1122.8 L323.4,1123.0 L331.3,1123.1 L339.1,1123.2 L347.0,1123.3 L354.9,1123.4 L362.7,1123.5 L370.6,1123.6 L378.5,1123.7 L386.3,1123.8 L394.2,1123.9 L402.1,1124.0 L409.9,1124.1 L417.8,1124.1 L425.7,1124.2 L433.5,1124.3 L441.4,1124.3 L449.3,1124.4 L457.1,1124.5 L465.0,1124.5 L472.9,1124.6 L480.8,1124.6 L488.6,1124.7 L496.5,1124.7 L504.4,1124.8 L512.2,1124.8 L520.1,1124.9 L528.0,1124.9 L535.8,1125.0 L543.7,1125.0 L551.6,1125.1 L559.4,1125.1 L567.3,1125.1 L575.2,1125.2 L583.0,1125.2 L590.9,1125.2 L598.8,1125.3 L606.6,1125.3 L614.5,1125.4 L622.4,1125.4 L630.2,1125.4 L638.1,1125.4 L646.0,1125.5 L653.9,1125.5 L661.7,1125.5 L669.6,1125.6 L677.5,1125.6 L685.3,1125.6 L693.2,1125.6 L701.1,1125.7 L708.9,1125.7 L716.8,1125.7 L724.7,1125.7 L732.5,1125.8 L740.4,1125.8 L748.3,1125.8 L756.1,1125.8 L764.0,1125.9 L771.9,1125.9 L779.7,1125.9 L787.6,1125.9 L795.5,1125.9 L803.3,1126.0 L811.2,1126.0 L819.1,1126.0 L826.9,1126.0 L834.8,1126.0 L842.7,1126.1 L850.6,1126.1 L858.4,1126.1 L866.3,1126.1" fill="none" stroke="#CD9505" stroke-width="5.8" stroke-linecap="round" stroke-linejoin="round"/>
<path d="M162.1,1148.0 L162.9,1148.3 L163.7,1148.6 L164.5,1148.9 L165.2,1149.2 L166.0,1149.4 L166.8,1149.7 L167.6,1150.0 L168.4,1150.2 L169.2,1150.5 L170.0,1150.7 L170.8,1150.9 L171.5,1151.1 L172.3,1151.4 L173.1,1151.6 L173.9,1151.8 L174.9,1152.0 L176.9,1152.5 L178.9,1153.0 L180.9,1153.4 L182.9,1153.8 L184.9,1154.2 L186.9,1154.6 L188.9,1155.0 L190.9,1155.3 L192.9,1155.6 L194.9,1155.9 L196.9,1156.2 L198.8,1156.5 L200.8,1156.8 L202.8,1157.0 L204.8,1157.3 L206.8,1157.5 L208.8,1157.8 L210.8,1158.0 L212.8,1158.2 L214.8,1158.4 L216.8,1158.6 L218.8,1158.8 L220.8,1159.0 L222.8,1159.2 L224.8,1159.4 L226.8,1159.6 L228.8,1159.7 L230.8,1159.9 L232.8,1160.1 L234.8,1160.2 L236.8,1160.4 L238.8,1160.5 L240.8,1160.6 L244.7,1160.9 L252.6,1161.4 L260.4,1161.9 L268.3,1162.3 L276.2,1162.7 L284.1,1163.1 L291.9,1163.4 L299.8,1163.7 L307.7,1164.0 L315.5,1164.3 L323.4,1164.5 L331.3,1164.7 L339.1,1165.0 L347.0,1165.2 L354.9,1165.4 L362.7,1165.6 L370.6,1165.8 L378.5,1165.9 L386.3,1166.1 L394.2,1166.3 L402.1,1166.4 L409.9,1166.6 L417.8,1166.7 L425.7,1166.8 L433.5,1167.0 L441.4,1167.1 L449.3,1167.2 L457.1,1167.3 L465.0,1167.5 L472.9,1167.6 L480.8,1167.7 L488.6,1167.8 L496.5,1167.9 L504.4,1168.0 L512.2,1168.0 L520.1,1168.1 L528.0,1168.2 L535.8,1168.3 L543.7,1168.4 L551.6,1168.5 L559.4,1168.5 L567.3,1168.6 L575.2,1168.7 L583.0,1168.8 L590.9,1168.8 L598.8,1168.9 L606.6,1169.0 L614.5,1169.0 L622.4,1169.1 L630.2,1169.2 L638.1,1169.2 L646.0,1169.3 L653.9,1169.3 L661.7,1169.4 L669.6,1169.4 L677.5,1169.5 L685.3,1169.6 L693.2,1169.6 L701.1,1169.7 L708.9,1169.7 L716.8,1169.8 L724.7,1169.8 L732.5,1169.8 L740.4,1169.9 L748.3,1169.9 L756.1,1170.0 L764.0,1170.0 L771.9,1170.1 L779.7,1170.1 L787.6,1170.1 L795.5,1170.2 L803.3,1170.2 L811.2,1170.3 L819.1,1170.3 L826.9,1170.3 L834.8,1170.4 L842.7,1170.4 L850.6,1170.4 L858.4,1170.5 L866.3,1170.5" fill="none" stroke="#2F768A" stroke-width="5.8" stroke-linecap="round" stroke-linejoin="round"/>
<path d="M162.1,1196.4 L162.9,1196.8 L163.7,1197.2 L164.5,1197.5 L165.2,1197.9 L166.0,1198.2 L166.8,1198.4 L167.6,1198.7 L168.4,1199.0 L169.2,1199.2 L170.0,1199.4 L170.8,1199.7 L171.5,1199.9 L172.3,1200.1 L173.1,1200.2 L173.9,1200.4 L174.9,1200.6 L176.9,1201.0 L178.9,1201.4 L180.9,1201.7 L182.9,1202.0 L184.9,1202.3 L186.9,1202.6 L188.9,1202.8 L190.9,1203.0 L192.9,1203.2 L194.9,1203.4 L196.9,1203.6 L198.8,1203.8 L200.8,1203.9 L202.8,1204.1 L204.8,1204.2 L206.8,1204.4 L208.8,1204.5 L210.8,1204.6 L212.8,1204.7 L214.8,1204.8 L216.8,1204.9 L218.8,1205.0 L220.8,1205.1 L222.8,1205.2 L224.8,1205.3 L226.8,1205.4 L228.8,1205.5 L230.8,1205.6 L232.8,1205.7 L234.8,1205.7 L236.8,1205.8 L238.8,1205.9 L240.8,1206.0 L244.7,1206.1 L252.6,1206.3 L260.4,1206.5 L268.3,1206.7 L276.2,1206.9 L284.1,1207.0 L291.9,1207.2 L299.8,1207.3 L307.7,1207.4 L315.5,1207.6 L323.4,1207.7 L331.3,1207.8 L339.1,1207.9 L347.0,1208.0 L354.9,1208.0 L362.7,1208.1 L370.6,1208.2 L378.5,1208.3 L386.3,1208.3 L394.2,1208.4 L402.1,1208.4 L409.9,1208.5 L417.8,1208.6 L425.7,1208.6 L433.5,1208.7 L441.4,1208.7 L449.3,1208.8 L457.1,1208.8 L465.0,1208.8 L472.9,1208.9 L480.8,1208.9 L488.6,1209.0 L496.5,1209.0 L504.4,1209.0 L512.2,1209.1 L520.1,1209.1 L528.0,1209.1 L535.8,1209.2 L543.7,1209.2 L551.6,1209.2 L559.4,1209.3 L567.3,1209.3 L575.2,1209.3 L583.0,1209.3 L590.9,1209.4 L598.8,1209.4 L606.6,1209.4 L614.5,1209.4 L622.4,1209.5 L630.2,1209.5 L638.1,1209.5 L646.0,1209.5 L653.9,1209.6 L661.7,1209.6 L669.6,1209.6 L677.5,1209.6 L685.3,1209.6 L693.2,1209.7 L701.1,1209.7 L708.9,1209.7 L716.8,1209.7 L724.7,1209.7 L732.5,1209.8 L740.4,1209.8 L748.3,1209.8 L756.1,1209.8 L764.0,1209.8 L771.9,1209.8 L779.7,1209.8 L787.6,1209.9 L795.5,1209.9 L803.3,1209.9 L811.2,1209.9 L819.1,1209.9 L826.9,1209.9 L834.8,1209.9 L842.7,1210.0 L850.6,1210.0 L858.4,1210.0 L866.3,1210.0" fill="none" stroke="#3A4A75" stroke-width="5.8" stroke-linecap="round" stroke-linejoin="round"/>
<path d="M162.1,1237.4 L162.9,1237.7 L163.7,1238.0 L164.5,1238.3 L165.2,1238.6 L166.0,1238.9 L166.8,1239.2 L167.6,1239.4 L168.4,1239.7 L169.2,1239.9 L170.0,1240.2 L170.8,1240.4 L171.5,1240.6 L172.3,1240.9 L173.1,1241.1 L173.9,1241.3 L174.9,1241.6 L176.9,1242.1 L178.9,1242.6 L180.9,1243.0 L182.9,1243.5 L184.9,1243.9 L186.9,1244.3 L188.9,1244.6 L190.9,1245.0 L192.9,1245.3 L194.9,1245.7 L196.9,1246.0 L198.8,1246.3 L200.8,1246.6 L202.8,1246.9 L204.8,1247.1 L206.8,1247.4 L208.8,1247.6 L210.8,1247.9 L212.8,1248.1 L214.8,1248.3 L216.8,1248.6 L218.8,1248.8 L220.8,1249.0 L222.8,1249.2 L224.8,1249.4 L226.8,1249.6 L228.8,1249.7 L230.8,1249.9 L232.8,1250.1 L234.8,1250.3 L236.8,1250.4 L238.8,1250.6 L240.8,1250.7 L244.7,1251.0 L252.6,1251.6 L260.4,1252.1 L268.3,1252.5 L276.2,1253.0 L284.1,1253.3 L291.9,1253.7 L299.8,1254.0 L307.7,1254.4 L315.5,1254.7 L323.4,1254.9 L331.3,1255.2 L339.1,1255.5 L347.0,1255.7 L354.9,1255.9 L362.7,1256.1 L370.6,1256.3 L378.5,1256.5 L386.3,1256.7 L394.2,1256.9 L402.1,1257.0 L409.9,1257.2 L417.8,1257.4 L425.7,1257.5 L433.5,1257.7 L441.4,1257.8 L449.3,1257.9 L457.1,1258.1 L465.0,1258.2 L472.9,1258.3 L480.8,1258.4 L488.6,1258.5 L496.5,1258.6 L504.4,1258.7 L512.2,1258.8 L520.1,1258.9 L528.0,1259.0 L535.8,1259.1 L543.7,1259.2 L551.6,1259.3 L559.4,1259.4 L567.3,1259.5 L575.2,1259.5 L583.0,1259.6 L590.9,1259.7 L598.8,1259.8 L606.6,1259.9 L614.5,1259.9 L622.4,1260.0 L630.2,1260.1 L638.1,1260.1 L646.0,1260.2 L653.9,1260.3 L661.7,1260.3 L669.6,1260.4 L677.5,1260.4 L685.3,1260.5 L693.2,1260.6 L701.1,1260.6 L708.9,1260.7 L716.8,1260.7 L724.7,1260.8 L732.5,1260.8 L740.4,1260.9 L748.3,1260.9 L756.1,1261.0 L764.0,1261.0 L771.9,1261.1 L779.7,1261.1 L787.6,1261.2 L795.5,1261.2 L803.3,1261.2 L811.2,1261.3 L819.1,1261.3 L826.9,1261.4 L834.8,1261.4 L842.7,1261.5 L850.6,1261.5 L858.4,1261.5 L866.3,1261.6" fill="none" stroke="#7A3600" stroke-width="5.8" stroke-linecap="round" stroke-linejoin="round"/>
<path d="M162.1,1288.9 L162.9,1289.2 L163.7,1289.5 L164.5,1289.8 L165.2,1290.1 L166.0,1290.4 L166.8,1290.6 L167.6,1290.8 L168.4,1291.1 L169.2,1291.3 L170.0,1291.4 L170.8,1291.6 L171.5,1291.8 L172.3,1292.0 L173.1,1292.1 L173.9,1292.3 L174.9,1292.5 L176.9,1292.8 L178.9,1293.1 L180.9,1293.4 L182.9,1293.6 L184.9,1293.9 L186.9,1294.1 L188.9,1294.3 L190.9,1294.5 L192.9,1294.6 L194.9,1294.8 L196.9,1295.0 L198.8,1295.1 L200.8,1295.2 L202.8,1295.4 L204.8,1295.5 L206.8,1295.6 L208.8,1295.7 L210.8,1295.8 L212.8,1295.9 L214.8,1296.0 L216.8,1296.1 L218.8,1296.2 L220.8,1296.3 L222.8,1296.4 L224.8,1296.4 L226.8,1296.5 L228.8,1296.6 L230.8,1296.7 L232.8,1296.7 L234.8,1296.8 L236.8,1296.8 L238.8,1296.9 L240.8,1297.0 L244.7,1297.1 L252.6,1297.3 L260.4,1297.5 L268.3,1297.6 L276.2,1297.8 L284.1,1297.9 L291.9,1298.0 L299.8,1298.1 L307.7,1298.2 L315.5,1298.3 L323.4,1298.4 L331.3,1298.5 L339.1,1298.6 L347.0,1298.7 L354.9,1298.7 L362.7,1298.8 L370.6,1298.9 L378.5,1298.9 L386.3,1299.0 L394.2,1299.0 L402.1,1299.1 L409.9,1299.1 L417.8,1299.2 L425.7,1299.2 L433.5,1299.3 L441.4,1299.3 L449.3,1299.4 L457.1,1299.4 L465.0,1299.4 L472.9,1299.5 L480.8,1299.5 L488.6,1299.5 L496.5,1299.6 L504.4,1299.6 L512.2,1299.6 L520.1,1299.7 L528.0,1299.7 L535.8,1299.7 L543.7,1299.7 L551.6,1299.8 L559.4,1299.8 L567.3,1299.8 L575.2,1299.8 L583.0,1299.9 L590.9,1299.9 L598.8,1299.9 L606.6,1299.9 L614.5,1299.9 L622.4,1300.0 L630.2,1300.0 L638.1,1300.0 L646.0,1300.0 L653.9,1300.0 L661.7,1300.1 L669.6,1300.1 L677.5,1300.1 L685.3,1300.1 L693.2,1300.1 L701.1,1300.1 L708.9,1300.2 L716.8,1300.2 L724.7,1300.2 L732.5,1300.2 L740.4,1300.2 L748.3,1300.2 L756.1,1300.2 L764.0,1300.3 L771.9,1300.3 L779.7,1300.3 L787.6,1300.3 L795.5,1300.3 L803.3,1300.3 L811.2,1300.3 L819.1,1300.3 L826.9,1300.4 L834.8,1300.4 L842.7,1300.4 L850.6,1300.4 L858.4,1300.4 L866.3,1300.4" fill="none" stroke="#6B8E2A" stroke-width="5.8" stroke-linecap="round" stroke-linejoin="round"/>
<path d="M162.1,1309.4 L162.9,1310.1 L163.7,1310.6 L164.5,1311.0 L165.2,1311.4 L166.0,1311.8 L166.8,1312.1 L167.6,1312.3 L168.4,1312.6 L169.2,1312.8 L170.0,1313.0 L170.8,1313.1 L171.5,1313.3 L172.3,1313.5 L173.1,1313.6 L173.9,1313.7 L174.9,1313.9 L176.9,1314.2 L178.9,1314.4 L180.9,1314.6 L182.9,1314.8 L184.9,1314.9 L186.9,1315.1 L188.9,1315.2 L190.9,1315.3 L192.9,1315.4 L194.9,1315.5 L196.9,1315.6 L198.8,1315.7 L200.8,1315.8 L202.8,1315.9 L204.8,1315.9 L206.8,1316.0 L208.8,1316.1 L210.8,1316.1 L212.8,1316.2 L214.8,1316.2 L216.8,1316.3 L218.8,1316.3 L220.8,1316.4 L222.8,1316.4 L224.8,1316.5 L226.8,1316.5 L228.8,1316.5 L230.8,1316.6 L232.8,1316.6 L234.8,1316.6 L236.8,1316.7 L238.8,1316.7 L240.8,1316.7 L244.7,1316.8 L252.6,1316.9 L260.4,1317.0 L268.3,1317.1 L276.2,1317.1 L284.1,1317.2 L291.9,1317.3 L299.8,1317.3 L307.7,1317.4 L315.5,1317.4 L323.4,1317.5 L331.3,1317.5 L339.1,1317.5 L347.0,1317.6 L354.9,1317.6 L362.7,1317.6 L370.6,1317.7 L378.5,1317.7 L386.3,1317.7 L394.2,1317.7 L402.1,1317.8 L409.9,1317.8 L417.8,1317.8 L425.7,1317.8 L433.5,1317.9 L441.4,1317.9 L449.3,1317.9 L457.1,1317.9 L465.0,1317.9 L472.9,1317.9 L480.8,1318.0 L488.6,1318.0 L496.5,1318.0 L504.4,1318.0 L512.2,1318.0 L520.1,1318.0 L528.0,1318.0 L535.8,1318.0 L543.7,1318.1 L551.6,1318.1 L559.4,1318.1 L567.3,1318.1 L575.2,1318.1 L583.0,1318.1 L590.9,1318.1 L598.8,1318.1 L606.6,1318.1 L614.5,1318.2 L622.4,1318.2 L630.2,1318.2 L638.1,1318.2 L646.0,1318.2 L653.9,1318.2 L661.7,1318.2 L669.6,1318.2 L677.5,1318.2 L685.3,1318.2 L693.2,1318.2 L701.1,1318.2 L708.9,1318.2 L716.8,1318.3 L724.7,1318.3 L732.5,1318.3 L740.4,1318.3 L748.3,1318.3 L756.1,1318.3 L764.0,1318.3 L771.9,1318.3 L779.7,1318.3 L787.6,1318.3 L795.5,1318.3 L803.3,1318.3 L811.2,1318.3 L819.1,1318.3 L826.9,1318.3 L834.8,1318.3 L842.7,1318.3 L850.6,1318.4 L858.4,1318.4 L866.3,1318.4" fill="none" stroke="#9D2300" stroke-width="5.8" stroke-linecap="round" stroke-linejoin="round"/>
<path d="M162.1,1326.8 L162.9,1328.0 L163.7,1328.9 L164.5,1329.5 L165.2,1330.1 L166.0,1330.5 L166.8,1330.9 L167.6,1331.2 L168.4,1331.5 L169.2,1331.8 L170.0,1332.0 L170.8,1332.2 L171.5,1332.4 L172.3,1332.5 L173.1,1332.7 L173.9,1332.8 L174.9,1333.0 L176.9,1333.2 L178.9,1333.5 L180.9,1333.7 L182.9,1333.9 L184.9,1334.0 L186.9,1334.2 L188.9,1334.3 L190.9,1334.4 L192.9,1334.5 L194.9,1334.6 L196.9,1334.7 L198.8,1334.8 L200.8,1334.8 L202.8,1334.9 L204.8,1335.0 L206.8,1335.0 L208.8,1335.1 L210.8,1335.1 L212.8,1335.2 L214.8,1335.2 L216.8,1335.3 L218.8,1335.3 L220.8,1335.4 L222.8,1335.4 L224.8,1335.4 L226.8,1335.5 L228.8,1335.5 L230.8,1335.5 L232.8,1335.6 L234.8,1335.6 L236.8,1335.6 L238.8,1335.7 L240.8,1335.7 L244.7,1335.7 L252.6,1335.8 L260.4,1335.9 L268.3,1336.0 L276.2,1336.0 L284.1,1336.1 L291.9,1336.1 L299.8,1336.2 L307.7,1336.2 L315.5,1336.3 L323.4,1336.3 L331.3,1336.3 L339.1,1336.4 L347.0,1336.4 L354.9,1336.4 L362.7,1336.5 L370.6,1336.5 L378.5,1336.5 L386.3,1336.5 L394.2,1336.6 L402.1,1336.6 L409.9,1336.6 L417.8,1336.6 L425.7,1336.6 L433.5,1336.7 L441.4,1336.7 L449.3,1336.7 L457.1,1336.7 L465.0,1336.7 L472.9,1336.7 L480.8,1336.7 L488.6,1336.8 L496.5,1336.8 L504.4,1336.8 L512.2,1336.8 L520.1,1336.8 L528.0,1336.8 L535.8,1336.8 L543.7,1336.8 L551.6,1336.8 L559.4,1336.9 L567.3,1336.9 L575.2,1336.9 L583.0,1336.9 L590.9,1336.9 L598.8,1336.9 L606.6,1336.9 L614.5,1336.9 L622.4,1336.9 L630.2,1336.9 L638.1,1336.9 L646.0,1336.9 L653.9,1337.0 L661.7,1337.0 L669.6,1337.0 L677.5,1337.0 L685.3,1337.0 L693.2,1337.0 L701.1,1337.0 L708.9,1337.0 L716.8,1337.0 L724.7,1337.0 L732.5,1337.0 L740.4,1337.0 L748.3,1337.0 L756.1,1337.0 L764.0,1337.0 L771.9,1337.0 L779.7,1337.0 L787.6,1337.1 L795.5,1337.1 L803.3,1337.1 L811.2,1337.1 L819.1,1337.1 L826.9,1337.1 L834.8,1337.1 L842.7,1337.1 L850.6,1337.1 L858.4,1337.1 L866.3,1337.1" fill="none" stroke="#CD9505" stroke-width="5.8" stroke-linecap="round" stroke-linejoin="round"/>
<path d="M162.1,1348.2 L162.9,1351.2 L163.7,1353.3 L164.5,1355.0 L165.2,1356.4 L166.0,1357.5 L166.8,1358.6 L167.6,1359.4 L168.4,1360.2 L169.2,1361.0 L170.0,1361.6 L170.8,1362.2 L171.5,1362.8 L172.3,1363.3 L173.1,1363.8 L173.9,1364.3 L174.9,1364.8 L176.9,1365.8 L178.9,1366.6 L180.9,1367.3 L182.9,1367.9 L184.9,1368.5 L186.9,1369.0 L188.9,1369.5 L190.9,1369.9 L192.9,1370.2 L194.9,1370.6 L196.9,1370.9 L198.8,1371.1 L200.8,1371.4 L202.8,1371.6 L204.8,1371.8 L206.8,1372.0 L208.8,1372.2 L210.8,1372.3 L212.8,1372.5 L214.8,1372.6 L216.8,1372.8 L218.8,1372.9 L220.8,1373.0 L222.8,1373.1 L224.8,1373.2 L226.8,1373.3 L228.8,1373.4 L230.8,1373.5 L232.8,1373.5 L234.8,1373.6 L236.8,1373.7 L238.8,1373.7 L240.8,1373.8 L244.7,1373.9 L252.6,1374.1 L260.4,1374.3 L268.3,1374.5 L276.2,1374.6 L284.1,1374.7 L291.9,1374.9 L299.8,1375.0 L307.7,1375.1 L315.5,1375.1 L323.4,1375.2 L331.3,1375.3 L339.1,1375.4 L347.0,1375.4 L354.9,1375.5 L362.7,1375.6 L370.6,1375.6 L378.5,1375.7 L386.3,1375.7 L394.2,1375.8 L402.1,1375.8 L409.9,1375.9 L417.8,1375.9 L425.7,1376.0 L433.5,1376.0 L441.4,1376.0 L449.3,1376.1 L457.1,1376.1 L465.0,1376.1 L472.9,1376.2 L480.8,1376.2 L488.6,1376.2 L496.5,1376.3 L504.4,1376.3 L512.2,1376.3 L520.1,1376.4 L528.0,1376.4 L535.8,1376.4 L543.7,1376.4 L551.6,1376.5 L559.4,1376.5 L567.3,1376.5 L575.2,1376.5 L583.0,1376.5 L590.9,1376.6 L598.8,1376.6 L606.6,1376.6 L614.5,1376.6 L622.4,1376.6 L630.2,1376.7 L638.1,1376.7 L646.0,1376.7 L653.9,1376.7 L661.7,1376.7 L669.6,1376.8 L677.5,1376.8 L685.3,1376.8 L693.2,1376.8 L701.1,1376.8 L708.9,1376.8 L716.8,1376.8 L724.7,1376.9 L732.5,1376.9 L740.4,1376.9 L748.3,1376.9 L756.1,1376.9 L764.0,1376.9 L771.9,1376.9 L779.7,1377.0 L787.6,1377.0 L795.5,1377.0 L803.3,1377.0 L811.2,1377.0 L819.1,1377.0 L826.9,1377.0 L834.8,1377.0 L842.7,1377.1 L850.6,1377.1 L858.4,1377.1 L866.3,1377.1" fill="none" stroke="#2F768A" stroke-width="5.8" stroke-linecap="round" stroke-linejoin="round"/>
<path d="M1147.9,17.5H1942.0 M1147.9,637.6H1942.0" stroke="#000" stroke-width="1.7" stroke-linecap="square" fill="none"/>
<path d="M1147.9,17.5V637.6 M1942.0,17.5V637.6" stroke="#000" stroke-width="1.7" stroke-linecap="square" fill="none"/>
<path d="M1147.9,513.58h15.6M1147.9,389.56h15.6M1147.9,265.54h15.6M1147.9,141.52h15.6" stroke="#000" stroke-width="1.8" fill="none"/>
<path d="M1147.9,612.80h9.3M1147.9,587.99h9.3M1147.9,563.19h9.3M1147.9,538.38h9.3M1147.9,488.78h9.3M1147.9,463.97h9.3M1147.9,439.17h9.3M1147.9,414.36h9.3M1147.9,364.76h9.3M1147.9,339.95h9.3M1147.9,315.15h9.3M1147.9,290.34h9.3M1147.9,240.74h9.3M1147.9,215.93h9.3M1147.9,191.13h9.3M1147.9,166.32h9.3M1147.9,116.72h9.3M1147.9,91.91h9.3M1147.9,67.11h9.3M1147.9,42.30h9.3" stroke="#000" stroke-width="1.4" fill="none"/>
<path d="M1174.37,637.6v-5.3M1200.84,637.6v-5.3M1227.31,637.6v-5.3M1253.78,637.6v-5.3M1280.25,637.6v-9.2M1306.72,637.6v-5.3M1333.19,637.6v-5.3M1359.66,637.6v-5.3M1386.13,637.6v-5.3M1412.60,637.6v-9.2M1439.07,637.6v-5.3M1465.54,637.6v-5.3M1492.01,637.6v-5.3M1518.48,637.6v-5.3M1544.95,637.6v-9.2M1571.42,637.6v-5.3M1597.89,637.6v-5.3M1624.36,637.6v-5.3M1650.83,637.6v-5.3M1677.30,637.6v-9.2M1703.77,637.6v-5.3M1730.24,637.6v-5.3M1756.71,637.6v-5.3M1783.18,637.6v-5.3M1809.65,637.6v-9.2M1836.12,637.6v-5.3M1862.59,637.6v-5.3M1889.06,637.6v-5.3M1915.53,637.6v-5.3" stroke="#000" stroke-width="1.5" fill="none"/>
<text class="t" x="1126.1" y="652.2" font-size="43" text-anchor="end">0</text>
<text class="t" x="1126.1" y="528.1" font-size="43" text-anchor="end">20</text>
<text class="t" x="1126.1" y="404.1" font-size="43" text-anchor="end">40</text>
<text class="t" x="1126.1" y="280.1" font-size="43" text-anchor="end">60</text>
<text class="t" x="1126.1" y="156.1" font-size="43" text-anchor="end">80</text>
<text class="t" x="1126.1" y="32.1" font-size="43" text-anchor="end">100</text>
<text class="t" x="1147.9" y="698.0" font-size="43" text-anchor="middle">0</text>
<text class="t" x="1280.2" y="698.0" font-size="43" text-anchor="middle">100</text>
<text class="t" x="1412.6" y="698.0" font-size="43" text-anchor="middle">200</text>
<text class="t" x="1545.0" y="698.0" font-size="43" text-anchor="middle">300</text>
<text class="t" x="1677.3" y="698.0" font-size="43" text-anchor="middle">400</text>
<text class="t" x="1809.7" y="698.0" font-size="43" text-anchor="middle">500</text>
<text class="t" x="1942.0" y="698.0" font-size="43" text-anchor="middle">600</text>
<text class="s" x="1544.9" y="768.8" font-size="40" text-anchor="middle">Nitrite conc. (M)</text>
<text class="t" font-size="48.0" text-anchor="middle" transform="translate(1028.3,327.4) rotate(-90)">i<tspan font-weight="normal">/ µ</tspan>A</text>
<text class="t" x="1192.2" y="81.4" font-size="42.0">(b)</text>
<line x1="1173.9" y1="637.6" x2="1942.0" y2="32.0" stroke="#000" stroke-width="1.4"/>
<circle cx="1214.1" cy="575.0" r="17" fill="#F80000" stroke="#000" stroke-width="1.6"/>
<circle cx="1280.2" cy="537.8" r="17" fill="#F80000" stroke="#000" stroke-width="1.6"/>
<circle cx="1346.4" cy="513.6" r="17" fill="#F80000" stroke="#000" stroke-width="1.6"/>
<circle cx="1412.6" cy="476.4" r="17" fill="#F80000" stroke="#000" stroke-width="1.6"/>
<circle cx="1478.8" cy="420.6" r="17" fill="#F80000" stroke="#000" stroke-width="1.6"/>
<circle cx="1545.0" cy="364.8" r="17" fill="#F80000" stroke="#000" stroke-width="1.6"/>
<circle cx="1611.1" cy="291.0" r="17" fill="#F80000" stroke="#000" stroke-width="1.6"/>
<circle cx="1677.3" cy="229.0" r="17" fill="#F80000" stroke="#000" stroke-width="1.6"/>
<circle cx="1743.5" cy="161.4" r="17" fill="#F80000" stroke="#000" stroke-width="1.6"/>
<circle cx="1809.7" cy="140.3" r="17" fill="#F80000" stroke="#000" stroke-width="1.6"/>
<path d="M1163.0,844.8H1957.2 M1163.0,1465.5H1957.2" stroke="#000" stroke-width="1.7" stroke-linecap="square" fill="none"/>
<path d="M1163.0,844.8V1465.5 M1957.2,844.8V1465.5" stroke="#000" stroke-width="1.7" stroke-linecap="square" fill="none"/>
<path d="M1163.0,1341.36h15.6M1163.0,1217.22h15.6M1163.0,1093.08h15.6M1163.0,968.94h15.6" stroke="#000" stroke-width="1.8" fill="none"/>
<path d="M1163.0,1440.67h9.3M1163.0,1415.84h9.3M1163.0,1391.02h9.3M1163.0,1366.19h9.3M1163.0,1316.53h9.3M1163.0,1291.70h9.3M1163.0,1266.88h9.3M1163.0,1242.05h9.3M1163.0,1192.39h9.3M1163.0,1167.56h9.3M1163.0,1142.74h9.3M1163.0,1117.91h9.3M1163.0,1068.25h9.3M1163.0,1043.42h9.3M1163.0,1018.60h9.3M1163.0,993.77h9.3M1163.0,944.11h9.3M1163.0,919.28h9.3M1163.0,894.46h9.3M1163.0,869.63h9.3" stroke="#000" stroke-width="1.4" fill="none"/>
<path d="M1189.47,1465.5v-5.3M1215.95,1465.5v-5.3M1242.42,1465.5v-5.3M1268.89,1465.5v-5.3M1295.37,1465.5v-9.2M1321.84,1465.5v-5.3M1348.31,1465.5v-5.3M1374.79,1465.5v-5.3M1401.26,1465.5v-5.3M1427.73,1465.5v-9.2M1454.21,1465.5v-5.3M1480.68,1465.5v-5.3M1507.15,1465.5v-5.3M1533.63,1465.5v-5.3M1560.10,1465.5v-9.2M1586.57,1465.5v-5.3M1613.05,1465.5v-5.3M1639.52,1465.5v-5.3M1665.99,1465.5v-5.3M1692.47,1465.5v-9.2M1718.94,1465.5v-5.3M1745.41,1465.5v-5.3M1771.89,1465.5v-5.3M1798.36,1465.5v-5.3M1824.83,1465.5v-9.2M1851.31,1465.5v-5.3M1877.78,1465.5v-5.3M1904.25,1465.5v-5.3M1930.73,1465.5v-5.3" stroke="#000" stroke-width="1.5" fill="none"/>
<text class="t" x="1142.5" y="1480.1" font-size="43" text-anchor="end">0</text>
<text class="t" x="1142.5" y="1355.9" font-size="43" text-anchor="end">20</text>
<text class="t" x="1142.5" y="1231.8" font-size="43" text-anchor="end">40</text>
<text class="t" x="1142.5" y="1107.6" font-size="43" text-anchor="end">60</text>
<text class="t" x="1142.5" y="983.5" font-size="43" text-anchor="end">80</text>
<text class="t" x="1142.5" y="859.4" font-size="43" text-anchor="end">100</text>
<text class="t" x="1163.0" y="1526.0" font-size="43" text-anchor="middle">0</text>
<text class="t" x="1295.4" y="1526.0" font-size="43" text-anchor="middle">100</text>
<text class="t" x="1427.7" y="1526.0" font-size="43" text-anchor="middle">200</text>
<text class="t" x="1560.1" y="1526.0" font-size="43" text-anchor="middle">300</text>
<text class="t" x="1692.5" y="1526.0" font-size="43" text-anchor="middle">400</text>
<text class="t" x="1824.8" y="1526.0" font-size="43" text-anchor="middle">500</text>
<text class="t" x="1957.2" y="1526.0" font-size="43" text-anchor="middle">600</text>
<text class="s" x="1560.1" y="1596.4" font-size="40" text-anchor="middle">Nitrite conc. (M)</text>
<text class="t" font-size="48.0" text-anchor="middle" transform="translate(1043.5,1154.7) rotate(-90)">i<tspan font-weight="normal">/ µ</tspan>A</text>
<text class="t" x="1192.2" y="908.0" font-size="42.0">(d)</text>
<line x1="1197.6" y1="1465.5" x2="1956.4" y2="855.4" stroke="#000" stroke-width="1.4"/>
<circle cx="1229.2" cy="1400.9" r="17" fill="#F80000" stroke="#000" stroke-width="1.6"/>
<circle cx="1295.4" cy="1368.7" r="17" fill="#F80000" stroke="#000" stroke-width="1.6"/>
<circle cx="1361.5" cy="1343.2" r="17" fill="#F80000" stroke="#000" stroke-width="1.6"/>
<circle cx="1427.7" cy="1304.1" r="17" fill="#F80000" stroke="#000" stroke-width="1.6"/>
<circle cx="1493.9" cy="1254.5" r="17" fill="#F80000" stroke="#000" stroke-width="1.6"/>
<circle cx="1560.1" cy="1192.4" r="17" fill="#F80000" stroke="#000" stroke-width="1.6"/>
<circle cx="1626.3" cy="1142.1" r="17" fill="#F80000" stroke="#000" stroke-width="1.6"/>
<circle cx="1692.5" cy="1061.4" r="17" fill="#F80000" stroke="#000" stroke-width="1.6"/>
<circle cx="1758.7" cy="993.8" r="17" fill="#F80000" stroke="#000" stroke-width="1.6"/>
<circle cx="1824.8" cy="933.6" r="17" fill="#F80000" stroke="#000" stroke-width="1.6"/>
</svg></body></html>
